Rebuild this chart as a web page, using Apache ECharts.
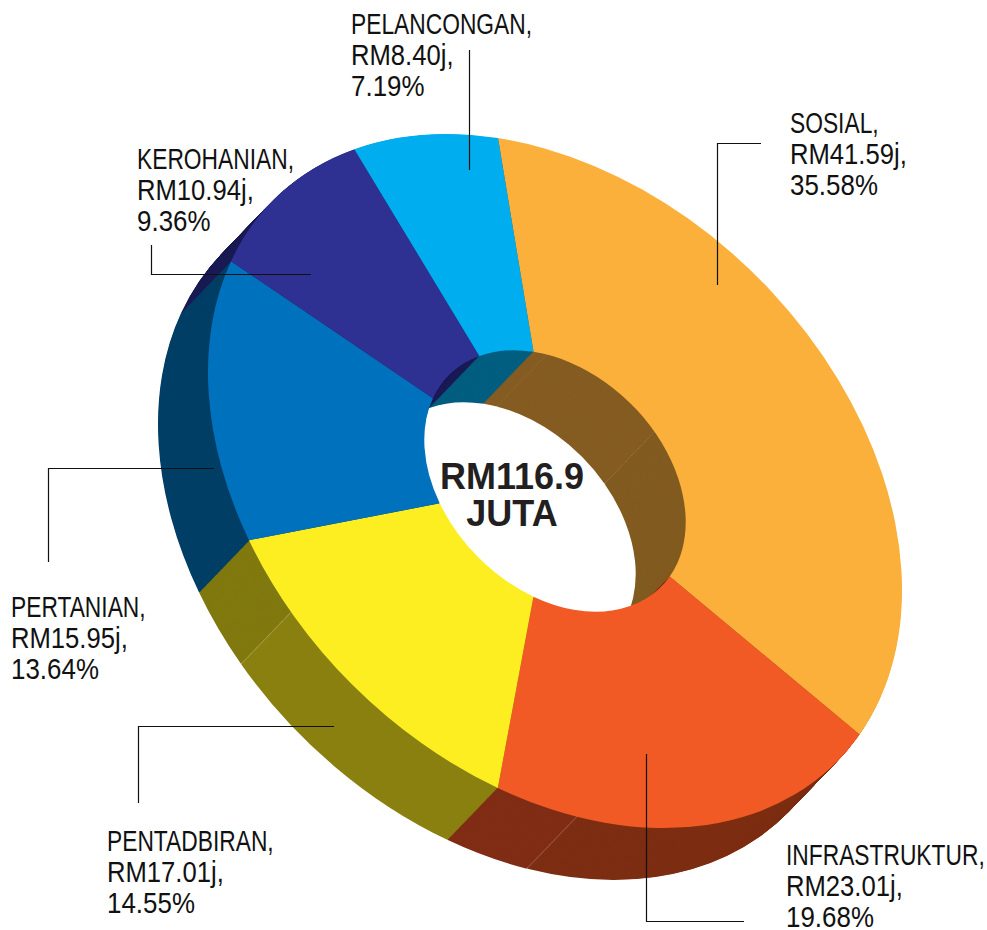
<!DOCTYPE html>
<html>
<head>
<meta charset="utf-8">
<title>RM116.9 juta</title>
<script src="https://cdn.jsdelivr.net/npm/echarts@6/dist/echarts.min.js"></script>
<style>
html, body { margin: 0; width: 987px; height: 930px; overflow: hidden; background: #fff; }
#stage { position: absolute; left: 0; top: 0; width: 987px; height: 930px; overflow: hidden; }
/* pie is drawn flat then tilted with css, svg keeps the edges sharp */
#pie { position: absolute; left: 155px; top: 81px; width: 800px; height: 800px; }
#notes { position: absolute; left: 0; top: 0; width: 987px; height: 930px; }
</style>
</head>
<body>
<div id="stage">
  <div id="pie"></div>
  <div id="notes"></div>
</div>
<script>
var categories = ['SOSIAL', 'INFRASTRUKTUR', 'PENTADBIRAN', 'PERTANIAN', 'KEROHANIAN', 'PELANCONGAN']
var values = [41.59, 23.01, 17.01, 15.95, 10.94, 8.40]
var percents = [35.58, 19.68, 14.55, 13.64, 9.36, 7.19]
var colors = ['#fbb03b', '#f15a24', '#fcee21', '#0071bc', '#2e3192', '#00aeef']
var total = 'RM116.9'

// side wall pieces, same order as the slices, some slices have facets with a thin light seam
var wallValues = [1.93, 0.04, 17.16, 0.04, 22.42, 18.72, 0.04, 4.25, 12.99, 0.04, 3.98, 15.95, 10.94, 8.40]
var wallColors = ['#855c22', '#a58a5c', '#855c22', '#a58a5c', '#825b20', '#7d2e12', '#a5705c', '#802d16', '#8a8010', '#a8a050', '#80790f', '#003f66', '#1b1b55', '#005e80']

var labelPos = [[790, 108], [786, 840], [107, 826], [11, 592], [137, 144], [351, 9]]
var leaders = [
  [[761, 143.5], [717.5, 143.5], [717.5, 285]],
  [[646.5, 754], [646.5, 921.5], [744, 921.5]],
  [[138.5, 803], [138.5, 726.5], [334, 726.5]],
  [[48.5, 562], [48.5, 468.5], [214, 468.5]],
  [[151.5, 245], [151.5, 274.5], [311, 274.5]],
  [[469.5, 50], [469.5, 170]]
]

var R = 300
var holeR = 113
var scaleU = 397.8 / R
var scaleV = 287.4 / R
var mid = 400
// how far the bottom face sits from the top face, in screen px
var depthX = -50
var depthY = 52
var steps = 72

document.getElementById('pie').style.transform =
  'rotate(45deg) scale(' + scaleU + ',' + scaleV + ')'

var depthU = (depthX + depthY) / Math.SQRT2 / scaleU
var depthV = (depthY - depthX) / Math.SQRT2 / scaleV

function ring(data, cx, cy) {
  return {
    type: 'pie',
    silent: true,
    animation: false,
    clockwise: true,
    startAngle: 135.3,
    center: [cx, cy],
    radius: [holeR, R],
    sort: null,
    avoidLabelOverlap: false,
    label: { show: false },
    labelLine: { show: false },
    data: data
  }
}

var wallData = wallValues.map(function(v, i) {
  return { value: v, itemStyle: { color: wallColors[i] } }
})
var topData = values.map(function(v, i) {
  return { name: categories[i], value: v, itemStyle: { color: colors[i] } }
})

var pieSeries = []
for (var s = steps; s > 0; s--) {
  pieSeries.push(ring(wallData, mid + depthU * s / steps, mid + depthV * s / steps))
}
pieSeries.push(ring(topData, mid, mid))

var pieChart = echarts.init(document.getElementById('pie'), null, { renderer: 'svg' })
pieChart.setOption({ animation: false, series: pieSeries })

var elements = []
leaders.forEach(function(points) {
  elements.push({
    type: 'polyline',
    silent: true,
    shape: { points: points },
    style: { stroke: '#111', lineWidth: 1.2, fill: null }
  })
})

// no condensed font here, so squeeze sideways. capitals need more than the digits
function labelLine(text, x, y, squeeze) {
  elements.push({
    type: 'text',
    silent: true,
    x: x,
    y: y + 1.5,
    scaleX: squeeze,
    style: { text: text, font: '30px "Liberation Sans", sans-serif', lineHeight: 26, fill: '#111' }
  })
}
categories.forEach(function(name, i) {
  var x = labelPos[i][0]
  var y = labelPos[i][1]
  labelLine(name + ',', x, y, 0.76)
  labelLine('RM' + values[i].toFixed(2) + 'j,', x, y + 31, 0.855)
  labelLine(percents[i].toFixed(2) + '%', x, y + 62, 0.865)
})
elements.push({
  type: 'text',
  silent: true,
  x: 512,
  y: 460,
  style: {
    text: total,
    font: 'bold 36px "Liberation Sans", sans-serif',
    lineHeight: 32,
    align: 'center',
    fill: '#231f20'
  }
})
elements.push({
  type: 'text',
  silent: true,
  x: 512,
  y: 497,
  style: {
    text: 'JUTA',
    font: 'bold 36px "Liberation Sans", sans-serif',
    lineHeight: 32,
    align: 'center',
    fill: '#231f20'
  }
})

var notesChart = echarts.init(document.getElementById('notes'), null, { renderer: 'svg' })
notesChart.setOption({ animation: false, graphic: { elements: elements } })
</script>
</body>
</html>
